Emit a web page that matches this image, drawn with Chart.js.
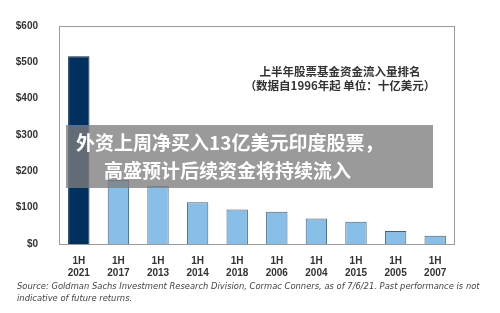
<!DOCTYPE html>
<html>
<head>
<meta charset="utf-8">
<script src="https://cdn.jsdelivr.net/npm/chart.js@4"></script>
<style>
    html, body { margin: 0; padding: 0; background: #fff; }
    #wrap { position: relative; width: 500px; height: 313px; overflow: hidden; }
    #title { position: absolute; left: 240px; width: 200px; top: 64px; text-align: center;
             font-family: "Noto Sans CJK SC", serif; font-size: 11.5px; font-weight: bold; color: #333; line-height: 14px; }
    #overlay { position: absolute; left: 66px; top: 125px; width: 367px; height: 63px;
               background: rgba(125, 125, 125, 0.78); color: #fff;
               font-family: "Noto Sans CJK SC", sans-serif; font-weight: bold; font-size: 19px; line-height: 28px; }
    #overlay .l1 { position: absolute; left: 10px; top: 3px; white-space: nowrap; }
    #overlay .l2 { position: absolute; left: 38px; top: 31px; white-space: nowrap; }
    #source { position: absolute; left: 17px; top: 280px; width: 482px;
              font-family: "DejaVu Sans", sans-serif; font-style: italic; font-size: 8.4px; color: #444; line-height: 12px; }
</style>
</head>
<body>
<div id="wrap">
    <canvas id="chart" width="500" height="313"></canvas>
    <div id="title">上半年股票基金资金流入量排名<br>（数据自1996年起 单位：十亿美元）</div>
    <div id="overlay"><span class="l1">外资上周净买入13亿美元印度股票，</span><span class="l2">高盛预计后续资金将持续流入</span></div>
    <div id="source">Source: Goldman Sachs Investment Research Division, Cormac Conners, as of 7/6/21. Past performance is not indicative of future returns.</div>
</div>
<script>
// Dati (miliardi di dollari)
var years = ['2021', '2017', '2013', '2014', '2018', '2006', '2004', '2015', '2005', '2007'];
var inflows = [517, 176, 160, 115, 95, 89, 70, 61, 36, 23];
var yTicks = [0, 100, 200, 300, 400, 500, 600];

var labels = years.map(function(y) { return ['1H', y]; });
var fills = years.map(function(y, i) { return i === 0 ? '#00305e' : '#88bfe9'; });
var borders = years.map(function(y, i) { return i === 0 ? '#00284f' : '#3d6384'; });

// cornice grigia attorno all'area del grafico
var frame = {
    id: 'frame',
    afterDraw: function(chart) {
        var a = chart.chartArea, c = chart.ctx;
        c.save();
        c.strokeStyle = '#9a9a9a';
        c.lineWidth = 1;
        c.strokeRect(a.left + 0.5, a.top + 0.5, a.right - a.left - 1, a.bottom - a.top);
        c.restore();
    }
};

new Chart(document.getElementById('chart'), {
    type: 'bar',
    data: {
        labels: labels,
        datasets: [{
            data: inflows,
            backgroundColor: fills,
            borderColor: borders,
            borderWidth: 1,
            categoryPercentage: 1,
            barPercentage: 0.54
        }]
    },
    options: {
        responsive: false,
        animation: false,
        layout: { padding: { left: 0, right: 45, top: 26, bottom: 0 } },
        plugins: { legend: { display: false }, tooltip: { enabled: false } },
        scales: {
            x: {
                grid: { display: false, drawBorder: false },
                border: { display: false },
                ticks: { color: '#333', font: { family: 'Liberation Sans', size: 10, weight: 'bold' }, padding: 3, maxRotation: 0 },
                afterFit: function(s) { s.height = 69; }
            },
            y: {
                min: 0,
                max: 600,
                grid: { display: false },
                border: { display: false },
                afterBuildTicks: function(s) { s.ticks = yTicks.map(function(v) { return { value: v }; }); },
                ticks: {
                    color: '#333',
                    padding: 13,
                    font: { family: 'Liberation Sans', size: 10, weight: 'bold' },
                    callback: function(v) { return '$' + v; }
                },
                afterFit: function(s) { s.width = 59; }
            }
        }
    },
    plugins: [frame]
});
</script>
</body>
</html>
